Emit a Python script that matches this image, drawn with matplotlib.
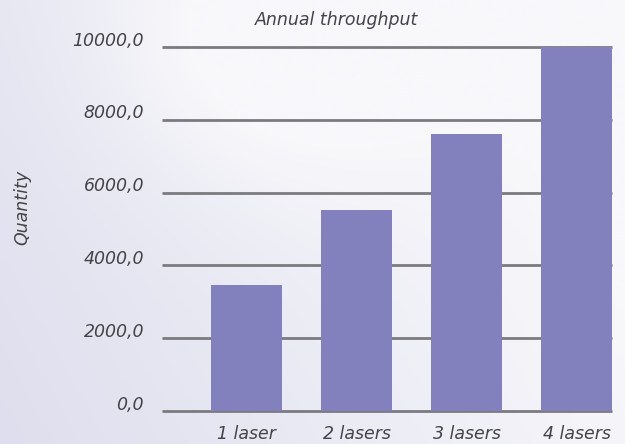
import numpy as np
import matplotlib
matplotlib.use("Agg")
import matplotlib.pyplot as plt
import matplotlib.transforms as mtransforms

categories = ["1 laser", "2 lasers", "3 lasers", "4 lasers"]
values = [3460, 5520, 7610, 10000]
yticks = [0, 2000, 4000, 6000, 8000, 10000]
ytick_labels = ["0,0", "2000,0", "4000,0", "6000,0", "8000,0", "10000,0"]

bar_color = "#8281bd"
grid_color = "#7b7b7f"
text_color = "#444448"
font = dict(family="DejaVu Sans", style="oblique", weight="normal")

fig = plt.figure(figsize=(6.25, 4.44), dpi=100)

# soft lavender background gradient
bg = fig.add_axes([0, 0, 1, 1], zorder=-1)
h, w = 222, 313
yy, xx = np.mgrid[0:1:h * 1j, 0:1:w * 1j]
light = np.array([248, 248, 251]) / 255
dark = np.array([222, 222, 238]) / 255
t = np.clip((1 - xx) * 0.9 + yy * 0.35 - 0.25, 0, 1)
blob = np.exp(-(((xx - 0.45) / 0.25) ** 2 + ((yy - 0.1) / 0.3) ** 2))
t = np.clip(t - 0.6 * blob, 0, 1)
img = light[None, None, :] * (1 - t[..., None]) + dark[None, None, :] * t[..., None]
bg.imshow(img, aspect="auto", extent=[0, 1, 0, 1], origin="upper")
bg.axis("off")

ax = fig.add_axes([162 / 625, 33 / 444, 450 / 625, 364 / 444])
ax.set_facecolor("none")
x = np.arange(len(categories))
ax.bar(x, values, width=0.645, color=bar_color, zorder=3, clip_on=False)

ax.set_xlim(-0.768, 3.32)
ax.set_ylim(0, 10000)
ax.set_yticks(yticks)
ax.set_yticklabels(ytick_labels, fontsize=12.5, color=text_color, **font)
ax.set_xticks(x)
ax.set_xticklabels(categories, fontsize=12.5, color=text_color, **font)
ax.tick_params(axis="both", length=0)
ax.tick_params(axis="y", pad=13)
ax.tick_params(axis="x", pad=10)
for lab in ax.get_yticklabels():
    lab.set_transform(lab.get_transform() + mtransforms.ScaledTranslation(0, 6 / 72, fig.dpi_scale_trans))

ax.grid(axis="y", color=grid_color, linewidth=2, zorder=1)
ax.set_axisbelow(True)
for gl in ax.get_ygridlines():
    gl.set_clip_on(False)
    gl.set_solid_capstyle("butt")
for s in ax.spines.values():
    s.set_visible(False)

ax.set_ylabel("Quantity", fontsize=12.5, color=text_color, **font)
ax.yaxis.set_label_coords(-0.29, 0.558)
fig.text(337 / 625, 1 - 20 / 444, "Annual throughput", ha="center", va="center",
         fontsize=12.5, color=text_color, **font)

fig.savefig("out.png", dpi=100)
